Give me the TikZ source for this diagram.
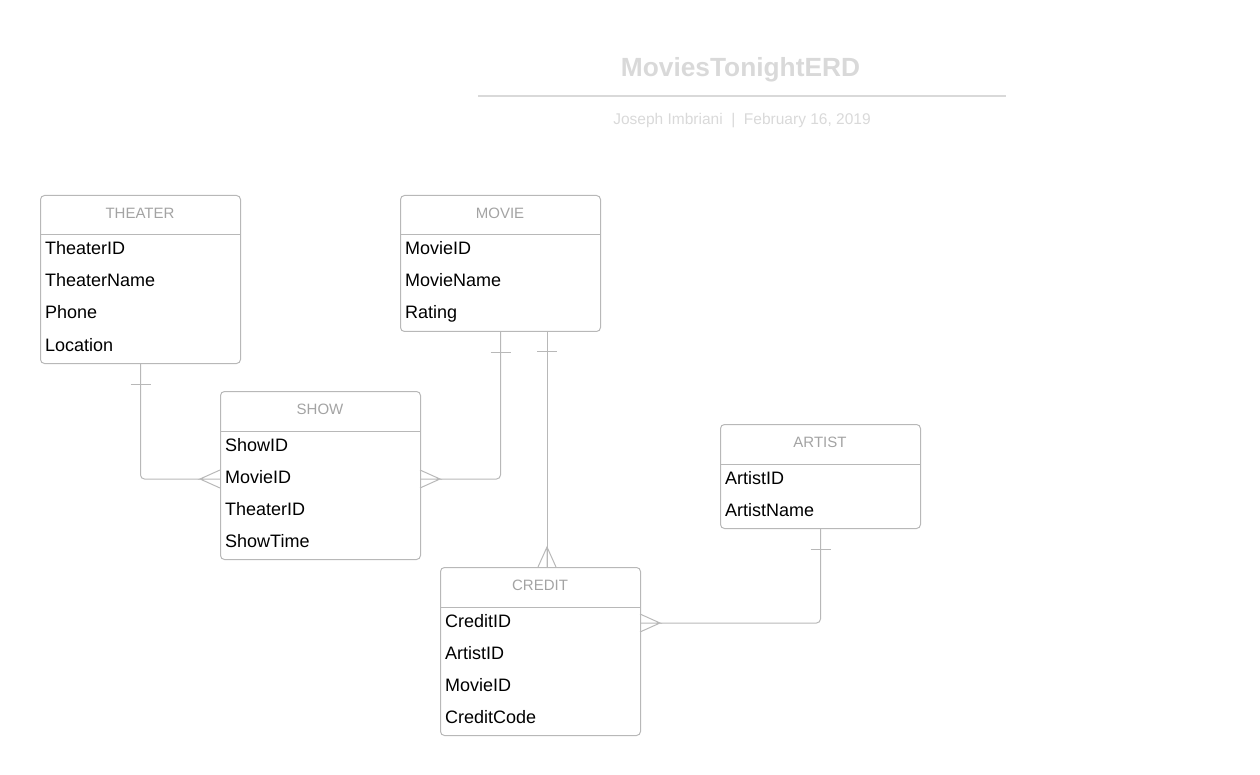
\documentclass[tikz,border=0pt]{standalone}
\usepackage{fontspec}
\setmainfont{Liberation Sans}
\definecolor{boxgray}{HTML}{B8B8B8}
\definecolor{headgray}{HTML}{A3A3A3}
\definecolor{titlegray}{HTML}{D9D9D9}
\tikzset{
  entity/.style={draw=boxgray, line width=1pt, rounded corners=4pt, minimum width=200pt, anchor=north west, inner sep=0pt},
  head/.style={text=headgray, font=\fontsize{15}{18}\selectfont, anchor=base, inner sep=0pt},
  field/.style={font=\fontsize{18}{21}\selectfont, anchor=base west, inner sep=0pt},
  conn/.style={draw=boxgray, line width=1pt}
}
\begin{document}
\begin{tikzpicture}[x=1pt, y=-1pt]
\useasboundingbox (0,0) rectangle (1260,775);
\node[font=\bfseries\fontsize{26.3}{30}\selectfont, text=titlegray, anchor=base, inner sep=0pt] (title) at (740.5,77) {MoviesTonightERD};
\draw[titlegray, line width=2pt] (478,96) -- (1006,96);
\node[font=\fontsize{15.5}{18}\selectfont, text=titlegray, anchor=base, inner sep=0pt] (subtitle) at (742,125) {Joseph Imbriani\ \ |\ \ February 16, 2019};

\node[entity, minimum height=168pt] (theater) at (40,195) {};
\draw[conn] (40,235) -- (240,235);
\node[head] (theaterh) at (140,218.5) {THEATER};
\foreach \f [count=\i] in {TheaterID,TheaterName,Phone,Location}
  \node[field] (theater\i) at (45,223+32*\i) {\f};

\node[entity, minimum height=136pt] (movie) at (400,195) {};
\draw[conn] (400,235) -- (600,235);
\node[head] (movieh) at (500,218.5) {MOVIE};
\foreach \f [count=\i] in {MovieID,MovieName,Rating}
  \node[field] (movie\i) at (405,223+32*\i) {\f};

\node[entity, minimum height=168pt] (show) at (220,391) {};
\draw[conn] (220,431) -- (420,431);
\node[head] (showh) at (320,414.5) {SHOW};
\foreach \f [count=\i] in {ShowID,MovieID,TheaterID,ShowTime}
  \node[field] (show\i) at (225,419+32*\i) {\f};

\node[entity, minimum height=104pt] (artist) at (720,424) {};
\draw[conn] (720,464) -- (920,464);
\node[head] (artisth) at (820,447.5) {ARTIST};
\foreach \f [count=\i] in {ArtistID,ArtistName}
  \node[field] (artist\i) at (725,452+32*\i) {\f};

\node[entity, minimum height=168pt] (credit) at (440,567) {};
\draw[conn] (440,607) -- (640,607);
\node[head] (credith) at (540,590.5) {CREDIT};
\foreach \f [count=\i] in {CreditID,ArtistID,MovieID,CreditCode}
  \node[field] (credit\i) at (445,595+32*\i) {\f};

\coordinate (showl) at (220,479);
\coordinate (showr) at (420,479);
\coordinate (moviea) at (547,331);
\coordinate (creditt) at (547,567);
\coordinate (creditr) at (640,623);

\draw[conn, rounded corners=4pt] (theater.south) |- ([xshift=-20pt]showl);
\draw[conn] (theater.south) ++(-10,20) -- ++(20,0);
\draw[conn] (showl) -- ++(-20,0) -- ++(20,-9) ++(-20,9) -- ++(20,9);

\draw[conn, rounded corners=4pt] (movie.south) |- ([xshift=20pt]showr);
\draw[conn] (movie.south) ++(-10,20) -- ++(20,0);
\draw[conn] (showr) -- ++(20,0) -- ++(-20,-9) ++(20,9) -- ++(-20,9);

\draw[conn] (moviea) -- (creditt);
\draw[conn] (moviea) ++(-10,20) -- ++(20,0);
\draw[conn] (creditt) -- ++(0,-20) -- ++(-9,20) ++(9,-20) -- ++(9,20);

\draw[conn, rounded corners=4pt] (artist.south) |- ([xshift=20pt]creditr);
\draw[conn] (artist.south) ++(-10,20) -- ++(20,0);
\draw[conn] (creditr) -- ++(20,0) -- ++(-20,-9) ++(20,9) -- ++(-20,9);

\end{tikzpicture}
\end{document}
